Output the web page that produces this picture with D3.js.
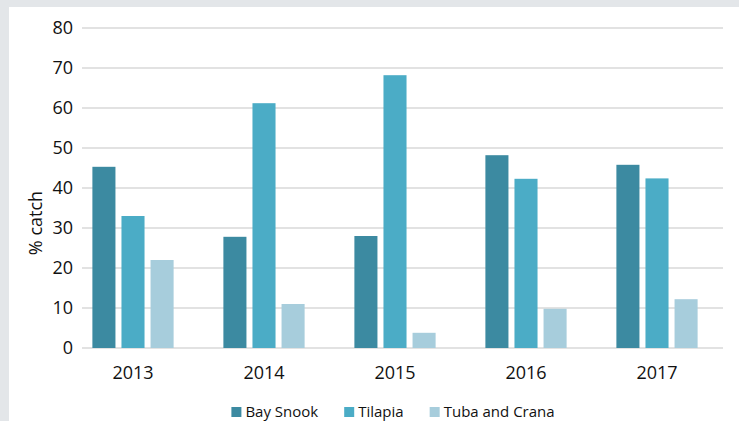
<!DOCTYPE html>
<html>
<head>
<meta charset="utf-8">
<script src="https://cdn.jsdelivr.net/npm/d3@7/dist/d3.min.js"></script>
<style>
  body { margin: 0; background: #fff; }
  text { font-family: "Open Sans", sans-serif; fill: #111; }
</style>
</head>
<body>
<svg width="739" height="421"></svg>
<script>
// data
const years = ["2013", "2014", "2015", "2016", "2017"];
const species = ["Bay Snook", "Tilapia", "Tuba and Crana"];
const baySnook = [45.3, 27.8, 28.0, 48.2, 45.8];
const tilapia = [33.0, 61.2, 68.2, 42.3, 42.4];
const tubaCrana = [22.0, 11.0, 3.8, 9.8, 12.2];
const yTicks = [0, 10, 20, 30, 40, 50, 60, 70, 80];

const colors = ["#3c8aa1", "#4bacc6", "#a7cddc"];
const seriesVals = [baySnook, tilapia, tubaCrana];

const width = 739, height = 421;
const svg = d3.select("svg");

// faded page behind the chart panel
svg.append("rect").attr("width", width).attr("height", height).attr("fill", "#e3e6e9");
svg.append("rect").attr("x", 9).attr("y", 7).attr("width", width - 9).attr("height", height - 7).attr("fill", "#fff");

let x = d3.scaleBand()
  .domain(years)
  .range([67.5, 722.5])
  .paddingInner(0.38)
  .paddingOuter(0.19);

let xs = d3.scaleBand()
  .domain(species)
  .range([0, x.bandwidth()])
  .paddingInner(0.207);

let y = d3.scaleLinear().domain([0, 80]).range([348, 28]);

// gridlines
svg.append("g")
  .selectAll("line")
  .data(yTicks)
  .enter()
  .append("line")
    .attr("x1", 82).attr("x2", 723)
    .attr("y1", d => y(d)).attr("y2", d => y(d))
    .attr("stroke", "#d9d9d9")
    .attr("stroke-width", 1.5);

// y tick labels
svg.append("g")
  .selectAll("text")
  .data(yTicks)
  .enter()
  .append("text")
    .attr("x", 73)
    .attr("y", d => y(d))
    .attr("dy", "0.36em")
    .attr("text-anchor", "end")
    .style("font-size", "18px")
    .text(d => d);

// bars
let rows = [];
years.forEach((yr, i) => {
  species.forEach((s, j) => rows.push({ year: yr, sp: s, v: seriesVals[j][i], c: colors[j] }));
});

svg.append("g")
  .selectAll("rect")
  .data(rows)
  .enter()
  .append("rect")
    .attr("x", d => x(d.year) + xs(d.sp))
    .attr("y", d => y(d.v))
    .attr("width", xs.bandwidth())
    .attr("height", d => y(0) - y(d.v))
    .attr("fill", d => d.c);

// x labels
svg.append("g")
  .selectAll("text")
  .data(years)
  .enter()
  .append("text")
    .attr("x", d => x(d) + x.bandwidth() / 2)
    .attr("y", 379)
    .attr("text-anchor", "middle")
    .style("font-size", "18px")
    .text(d => d);

// y axis title
svg.append("text")
  .attr("transform", "translate(42," + 223 + ") rotate(-90)")
  .attr("text-anchor", "middle")
  .style("font-size", "18px")
  .text("% catch");

// legend
let legend = svg.append("g");
let items = legend.selectAll("g")
  .data(species)
  .enter()
  .append("g");

items.append("rect")
  .attr("width", 10).attr("height", 10)
  .attr("y", 407)
  .attr("fill", (d, i) => colors[i]);

items.append("text")
  .attr("x", 14)
  .attr("y", 417)
  .style("font-size", "15px")
  .text(d => d);

let pos = 0;
let offsets = [];
items.each(function() {
  offsets.push(pos);
  let w = d3.select(this).select("text").node().getComputedTextLength();
  pos += 14 + w + 26;
});
let total = pos - 26;
let start = 393 - total / 2;
items.attr("transform", (d, i) => "translate(" + (start + offsets[i]) + ",0)");
</script>
</body>
</html>
